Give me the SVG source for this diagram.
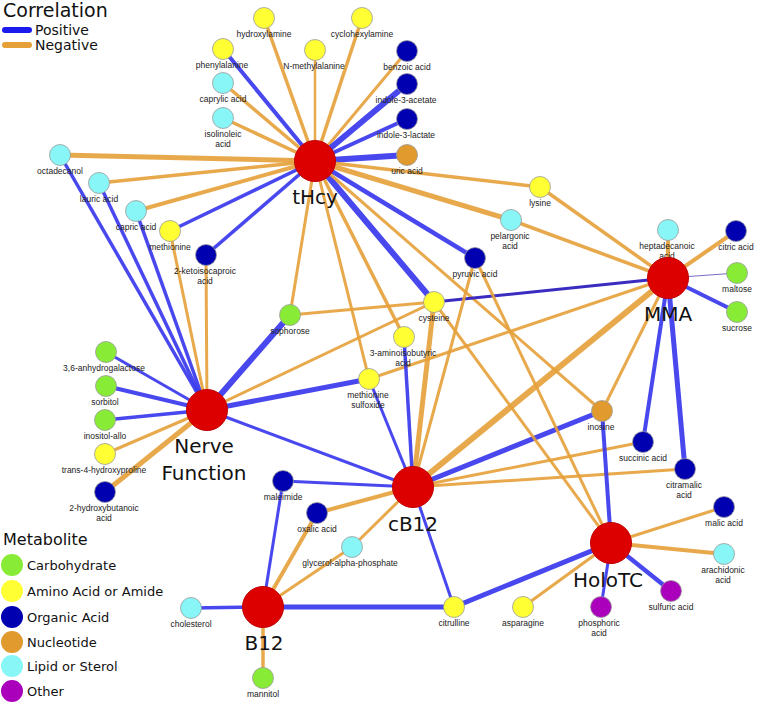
<svg xmlns="http://www.w3.org/2000/svg" width="757" height="704" viewBox="0 0 757 704">
<style>
.p{stroke:#3434ec;stroke-opacity:.9;fill:none}
.n{stroke:#e6a038;stroke-opacity:.9;fill:none}
.hub{fill:#dd0000;stroke:#c00000;stroke-width:1}
.s{stroke:#9a9a9a;stroke-width:.8}
.Y{fill:#ffff33}.C{fill:#88f6f6}.G{fill:#88ec36}.D{fill:#0000b0}.O{fill:#e19a2e}.P{fill:#aa00bb}
.lb{font-family:"Liberation Sans",Arial,sans-serif;font-size:8.5px;fill:#222;text-anchor:middle}
.hl{font-family:"DejaVu Sans",Verdana,sans-serif;font-size:20px;fill:#111;text-anchor:middle}
.lg{font-family:"DejaVu Sans",Verdana,sans-serif;fill:#111}
</style>
<rect width="757" height="704" fill="#fff"/>
<g id="edges">
<!-- tHcy -->
<line class="n" stroke-width="3.5" x1="315" y1="161" x2="264" y2="18"/>
<line class="n" stroke-width="3.5" x1="315" y1="161" x2="362" y2="18"/>
<line class="p" stroke-width="4" x1="315" y1="161" x2="223" y2="49"/>
<line class="n" stroke-width="2.5" x1="315" y1="161" x2="315" y2="50"/>
<line class="n" stroke-width="3" x1="315" y1="161" x2="407" y2="51"/>
<line class="n" stroke-width="3.5" x1="315" y1="161" x2="223" y2="83"/>
<line class="p" stroke-width="6" x1="315" y1="161" x2="407" y2="84"/>
<line class="n" stroke-width="3.5" x1="315" y1="161" x2="223" y2="118"/>
<line class="p" stroke-width="4" x1="315" y1="161" x2="407" y2="119"/>
<line class="p" stroke-width="6" x1="315" y1="161" x2="407" y2="155"/>
<line class="n" stroke-width="5" x1="315" y1="161" x2="60" y2="155"/>
<line class="n" stroke-width="3.5" x1="315" y1="161" x2="99" y2="183"/>
<line class="n" stroke-width="4" x1="315" y1="161" x2="136" y2="211"/>
<line class="p" stroke-width="3.5" x1="315" y1="161" x2="170" y2="231"/>
<line class="p" stroke-width="3.5" x1="315" y1="161" x2="206" y2="255"/>
<line class="n" stroke-width="3.5" x1="315" y1="161" x2="540" y2="187"/>
<line class="n" stroke-width="5" x1="315" y1="161" x2="511" y2="220"/>
<line class="p" stroke-width="4.5" x1="315" y1="161" x2="475" y2="258"/>
<line class="p" stroke-width="6" x1="315" y1="161" x2="434" y2="302"/>
<line class="n" stroke-width="3" x1="315" y1="161" x2="290" y2="315"/>
<line class="n" stroke-width="3.5" x1="315" y1="161" x2="404" y2="337"/>
<line class="n" stroke-width="3" x1="315" y1="161" x2="369" y2="379"/>
<line class="n" stroke-width="3" x1="315" y1="161" x2="602" y2="411"/>
<!-- Nerve Function -->
<line class="p" stroke-width="3.5" x1="207" y1="410" x2="60" y2="155"/>
<line class="p" stroke-width="3.5" x1="207" y1="410" x2="99" y2="183"/>
<line class="p" stroke-width="3.5" x1="207" y1="410" x2="136" y2="211"/>
<line class="n" stroke-width="3" x1="207" y1="410" x2="170" y2="231"/>
<line class="n" stroke-width="3" x1="207" y1="410" x2="206" y2="255"/>
<line class="p" stroke-width="6" x1="207" y1="410" x2="290" y2="315"/>
<line class="p" stroke-width="3" x1="207" y1="410" x2="106" y2="352"/>
<line class="p" stroke-width="4" x1="207" y1="410" x2="106" y2="386"/>
<line class="p" stroke-width="3.5" x1="207" y1="410" x2="105" y2="420"/>
<line class="n" stroke-width="3" x1="207" y1="410" x2="105" y2="454"/>
<line class="n" stroke-width="5" x1="207" y1="410" x2="105" y2="492"/>
<line class="n" stroke-width="3" x1="207" y1="410" x2="434" y2="302"/>
<line class="p" stroke-width="5" x1="207" y1="410" x2="369" y2="379"/>
<line class="p" stroke-width="3" x1="207" y1="410" x2="413" y2="487"/>
<!-- misc -->
<line class="n" stroke-width="3" x1="290" y1="315" x2="434" y2="302"/>
<!-- MMA -->
<line class="n" stroke-width="3.5" x1="668" y1="278" x2="540" y2="187"/>
<line class="n" stroke-width="3.5" x1="668" y1="278" x2="511" y2="220"/>
<line stroke="#3a2cc0" stroke-width="3" x1="668" y1="278" x2="434" y2="302"/>
<line class="n" stroke-width="3" x1="668" y1="278" x2="369" y2="379"/>
<line class="n" stroke-width="6" x1="668" y1="278" x2="413" y2="487"/>
<line class="n" stroke-width="3" x1="668" y1="278" x2="602" y2="411"/>
<line class="p" stroke-width="4" x1="668" y1="278" x2="643" y2="442"/>
<line class="p" stroke-width="5" x1="668" y1="278" x2="685" y2="469"/>
<line class="n" stroke-width="4" x1="668" y1="278" x2="668" y2="230"/>
<line class="n" stroke-width="4" x1="668" y1="278" x2="736" y2="231"/>
<line stroke="#7a6cc8" stroke-width="1" x1="668" y1="278" x2="737" y2="273"/>
<line class="p" stroke-width="4" x1="668" y1="278" x2="737" y2="312"/>
<!-- cB12 -->
<line class="n" stroke-width="5" x1="413" y1="487" x2="434" y2="302"/>
<line class="n" stroke-width="3" x1="413" y1="487" x2="475" y2="258"/>
<line class="p" stroke-width="3.5" x1="413" y1="487" x2="404" y2="337"/>
<line class="p" stroke-width="3" x1="413" y1="487" x2="369" y2="379"/>
<line class="p" stroke-width="3" x1="413" y1="487" x2="283" y2="481"/>
<line class="n" stroke-width="4" x1="413" y1="487" x2="317" y2="513"/>
<line class="n" stroke-width="3" x1="413" y1="487" x2="352" y2="547"/>
<line class="p" stroke-width="3" x1="413" y1="487" x2="454" y2="607"/>
<line class="p" stroke-width="5" x1="413" y1="487" x2="602" y2="411"/>
<line class="n" stroke-width="3" x1="413" y1="487" x2="643" y2="442"/>
<line class="n" stroke-width="3" x1="413" y1="487" x2="685" y2="469"/>
<!-- HoloTC -->
<line class="n" stroke-width="3" x1="611" y1="543" x2="475" y2="258"/>
<line class="n" stroke-width="3" x1="611" y1="543" x2="434" y2="302"/>
<line class="p" stroke-width="4" x1="611" y1="543" x2="602" y2="411"/>
<line class="p" stroke-width="5" x1="611" y1="543" x2="454" y2="607"/>
<line class="n" stroke-width="3" x1="611" y1="543" x2="523" y2="607"/>
<line class="p" stroke-width="3" x1="611" y1="543" x2="601" y2="607"/>
<line class="p" stroke-width="4.5" x1="611" y1="543" x2="671" y2="591"/>
<line class="n" stroke-width="4" x1="611" y1="543" x2="724" y2="554"/>
<line class="n" stroke-width="3" x1="611" y1="543" x2="724" y2="507"/>
<!-- B12 -->
<line class="p" stroke-width="3" x1="263" y1="607" x2="283" y2="481"/>
<line class="n" stroke-width="4" x1="263" y1="607" x2="317" y2="513"/>
<line class="n" stroke-width="3" x1="263" y1="607" x2="352" y2="547"/>
<line class="p" stroke-width="3.5" x1="263" y1="607" x2="191" y2="608"/>
<line class="p" stroke-width="5" x1="263" y1="607" x2="454" y2="607"/>
<line class="n" stroke-width="3.5" x1="263" y1="607" x2="263" y2="678"/>
</g>
<g id="nodes">
<g id="n-hydroxylamine"><circle class="s Y" cx="264" cy="18" r="10.5"/><text class="lb" x="264" y="37">hydroxylamine</text></g>
<g id="n-cyclohexylamine"><circle class="s Y" cx="362" cy="18" r="10.5"/><text class="lb" x="362" y="37">cyclohexylamine</text></g>
<g id="n-phenylalanine"><circle class="s Y" cx="223" cy="49" r="10.5"/><text class="lb" x="222" y="68">phenylalanine</text></g>
<g id="n-nmethylalanine"><circle class="s Y" cx="315" cy="50" r="10.5"/><text class="lb" x="314" y="69">N-methylalanine</text></g>
<g id="n-benzoic"><circle class="s D" cx="407" cy="51" r="10.5"/><text class="lb" x="407" y="70">benzoic acid</text></g>
<g id="n-caprylic"><circle class="s C" cx="223" cy="83" r="10.5"/><text class="lb" x="223" y="102">caprylic acid</text></g>
<g id="n-indoleacetate"><circle class="s D" cx="407" cy="84" r="10.5"/><text class="lb" x="406" y="103">indole-3-acetate</text></g>
<g id="n-isolinoleic"><circle class="s C" cx="223" cy="118" r="10.5"/><text class="lb" x="223" y="137">isolinoleic</text><text class="lb" x="223" y="147">acid</text></g>
<g id="n-indolelactate"><circle class="s D" cx="407" cy="119" r="10.5"/><text class="lb" x="406" y="138">indole-3-lactate</text></g>
<g id="n-uric"><circle class="s O" cx="407" cy="155" r="10.5"/><text class="lb" x="407" y="174">uric acid</text></g>
<g id="n-octadecanol"><circle class="s C" cx="60" cy="155" r="10.5"/><text class="lb" x="60" y="174">octadecanol</text></g>
<g id="n-lauric"><circle class="s C" cx="99" cy="183" r="10.5"/><text class="lb" x="99" y="202">lauric acid</text></g>
<g id="n-capric"><circle class="s C" cx="136" cy="211" r="10.5"/><text class="lb" x="136" y="230">capric acid</text></g>
<g id="n-methionine"><circle class="s Y" cx="170" cy="231" r="10.5"/><text class="lb" x="170" y="250">methionine</text></g>
<g id="n-ketoisocaproic"><circle class="s D" cx="206" cy="255" r="10.5"/><text class="lb" x="205" y="274">2-ketoisocaproic</text><text class="lb" x="205" y="284">acid</text></g>
<g id="n-lysine"><circle class="s Y" cx="540" cy="187" r="10.5"/><text class="lb" x="540" y="206">lysine</text></g>
<g id="n-pelargonic"><circle class="s C" cx="511" cy="220" r="10.5"/><text class="lb" x="510" y="239">pelargonic</text><text class="lb" x="510" y="249">acid</text></g>
<g id="n-pyruvic"><circle class="s D" cx="475" cy="258" r="10.5"/><text class="lb" x="475" y="277">pyruvic acid</text></g>
<g id="n-cysteine"><circle class="s Y" cx="434" cy="302" r="10.5"/><text class="lb" x="434" y="321">cysteine</text></g>
<g id="n-sophorose"><circle class="s G" cx="290" cy="315" r="10.5"/><text class="lb" x="290" y="334">sophorose</text></g>
<g id="n-aminoisobutyric"><circle class="s Y" cx="404" cy="337" r="10.5"/><text class="lb" x="403" y="356">3-aminoisobutyric</text><text class="lb" x="403" y="366">acid</text></g>
<g id="n-metsulfoxide"><circle class="s Y" cx="369" cy="379" r="10.5"/><text class="lb" x="368" y="398">methionine</text><text class="lb" x="368" y="408">sulfoxide</text></g>
<g id="n-heptadecanoic"><circle class="s C" cx="668" cy="230" r="10.5"/><text class="lb" x="667" y="249">heptadecanoic</text><text class="lb" x="667" y="259">acid</text></g>
<g id="n-citric"><circle class="s D" cx="736" cy="231" r="10.5"/><text class="lb" x="736" y="250">citric acid</text></g>
<g id="n-maltose"><circle class="s G" cx="737" cy="273" r="10.5"/><text class="lb" x="737" y="292">maltose</text></g>
<g id="n-sucrose"><circle class="s G" cx="737" cy="312" r="10.5"/><text class="lb" x="737" y="331">sucrose</text></g>
<g id="n-anhydrogalactose"><circle class="s G" cx="106" cy="352" r="10.5"/><text class="lb" x="104" y="371">3,6-anhydrogalactose</text></g>
<g id="n-sorbitol"><circle class="s G" cx="106" cy="386" r="10.5"/><text class="lb" x="105" y="405">sorbitol</text></g>
<g id="n-inositol"><circle class="s G" cx="105" cy="420" r="10.5"/><text class="lb" x="105" y="439">inositol-allo</text></g>
<g id="n-hydroxyproline"><circle class="s Y" cx="105" cy="454" r="10.5"/><text class="lb" x="104" y="473">trans-4-hydroxyproline</text></g>
<g id="n-hydroxybutanoic"><circle class="s D" cx="105" cy="492" r="10.5"/><text class="lb" x="104" y="511">2-hydroxybutanoic</text><text class="lb" x="104" y="521">acid</text></g>
<g id="n-maleimide"><circle class="s D" cx="283" cy="481" r="10.5"/><text class="lb" x="283" y="500">maleimide</text></g>
<g id="n-oxalic"><circle class="s D" cx="317" cy="513" r="10.5"/><text class="lb" x="317" y="532">oxalic acid</text></g>
<g id="n-glycerol"><circle class="s C" cx="352" cy="547" r="10.5"/><text class="lb" x="350" y="566">glycerol-alpha-phosphate</text></g>
<g id="n-citrulline"><circle class="s Y" cx="454" cy="607" r="10.5"/><text class="lb" x="454" y="626">citrulline</text></g>
<g id="n-inosine"><circle class="s O" cx="602" cy="411" r="10.5"/><text class="lb" x="601" y="430">inosine</text></g>
<g id="n-succinic"><circle class="s D" cx="643" cy="442" r="10.5"/><text class="lb" x="643" y="461">succinic acid</text></g>
<g id="n-citramalic"><circle class="s D" cx="685" cy="469" r="10.5"/><text class="lb" x="684" y="488">citramalic</text><text class="lb" x="684" y="498">acid</text></g>
<g id="n-malic"><circle class="s D" cx="724" cy="507" r="10.5"/><text class="lb" x="724" y="526">malic acid</text></g>
<g id="n-arachidonic"><circle class="s C" cx="724" cy="554" r="10.5"/><text class="lb" x="723" y="573">arachidonic</text><text class="lb" x="723" y="583">acid</text></g>
<g id="n-asparagine"><circle class="s Y" cx="523" cy="607" r="10.5"/><text class="lb" x="523" y="626">asparagine</text></g>
<g id="n-phosphoric"><circle class="s P" cx="601" cy="607" r="10.5"/><text class="lb" x="599" y="626">phosphoric</text><text class="lb" x="599" y="636">acid</text></g>
<g id="n-sulfuric"><circle class="s P" cx="671" cy="591" r="10.5"/><text class="lb" x="671" y="610">sulfuric acid</text></g>
<g id="n-cholesterol"><circle class="s C" cx="191" cy="608" r="10.5"/><text class="lb" x="191" y="627">cholesterol</text></g>
<g id="n-mannitol"><circle class="s G" cx="263" cy="678" r="10.5"/><text class="lb" x="263" y="697">mannitol</text></g>
<g id="h-tHcy"><circle class="hub" cx="315" cy="161" r="20.5"/><text class="hl" x="315" y="204">tHcy</text></g>
<g id="h-MMA"><circle class="hub" cx="668" cy="278" r="20.5"/><text class="hl" x="668" y="321">MMA</text></g>
<g id="h-nerve"><circle class="hub" cx="207" cy="410" r="20.5"/><text class="hl" x="204" y="453">Nerve</text><text class="hl" x="204" y="480">Function</text></g>
<g id="h-cB12"><circle class="hub" cx="413" cy="487" r="20.5"/><text class="hl" x="413" y="531">cB12</text></g>
<g id="h-HoloTC"><circle class="hub" cx="611" cy="543" r="20.5"/><text class="hl" x="608" y="587">HoloTC</text></g>
<g id="h-B12"><circle class="hub" cx="263" cy="607" r="20.5"/><text class="hl" x="264" y="650">B12</text></g>
</g>
<g id="legend-correlation">
<text class="lg" x="3" y="17" font-size="19">Correlation</text>
<line x1="5" y1="30" x2="29" y2="30" stroke="#1a1aee" stroke-width="6" stroke-linecap="round"/>
<text class="lg" x="35" y="35" font-size="14">Positive</text>
<line x1="5" y1="45" x2="29" y2="45" stroke="#e6a038" stroke-width="6" stroke-linecap="round"/>
<text class="lg" x="35" y="50" font-size="14">Negative</text>
</g>
<g id="legend-metabolite">
<text class="lg" x="3" y="545" font-size="16">Metabolite</text>
<circle class="G" cx="12" cy="565" r="11"/><text class="lg" x="27" y="570" font-size="13">Carbohydrate</text>
<circle class="Y" cx="12" cy="591" r="11"/><text class="lg" x="27" y="596" font-size="13">Amino Acid or Amide</text>
<circle class="D" cx="12" cy="617" r="11"/><text class="lg" x="27" y="622" font-size="13">Organic Acid</text>
<circle class="O" cx="12" cy="642" r="11"/><text class="lg" x="27" y="647" font-size="13">Nucleotide</text>
<circle class="C" cx="12" cy="666" r="11"/><text class="lg" x="27" y="671" font-size="13">Lipid or Sterol</text>
<circle class="P" cx="12" cy="691" r="11"/><text class="lg" x="27" y="696" font-size="13">Other</text>
</g>
</svg>
